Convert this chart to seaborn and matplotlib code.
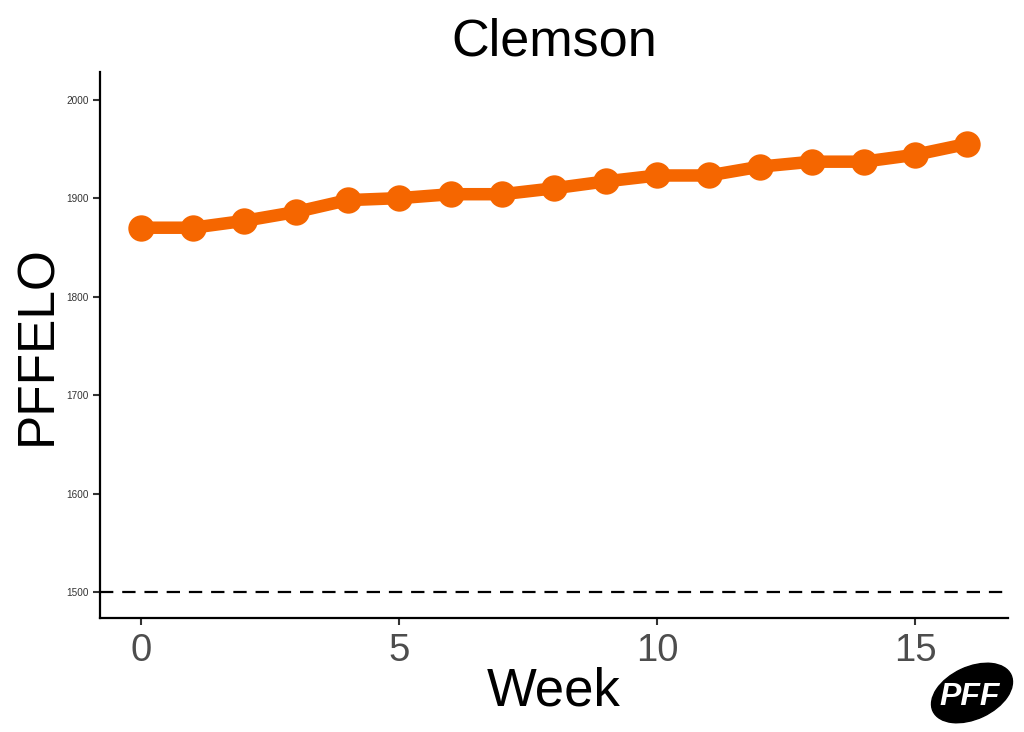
import matplotlib
matplotlib.use("Agg")
import matplotlib.pyplot as plt
from matplotlib.patches import Ellipse
import seaborn as sns
import pandas as pd

# ── Data ──────────────────────────────────────────────────────────────
weeks = list(range(17))
elo = [1870, 1870, 1877, 1886, 1898, 1900, 1904, 1904, 1910,
       1917, 1923, 1923, 1932, 1937, 1937, 1944, 1955]
team = "Clemson"
baseline = 1500

df = pd.DataFrame({"Week": weeks, "PFFELO": elo})

sns.set_style("white")
plt.rcParams["font.family"] = ["Liberation Sans", "DejaVu Sans"]
plt.rcParams["text.color"] = "black"
plt.rcParams["axes.labelcolor"] = "black"

fig = plt.figure(figsize=(10.24, 7.32), dpi=100)
ax = fig.add_axes([100/1024, 1 - 618/732, 908/1024, 546/732])

orange = "#F56600"
sns.lineplot(data=df, x="Week", y="PFFELO", ax=ax, color=orange,
             linewidth=9, marker="o", markersize=19,
             markeredgewidth=0, markerfacecolor=orange)
ax.axhline(baseline, color="black", linestyle=(0, (6, 4)), linewidth=1.6)

ax.set_xlim(-0.8, 16.8)
ax.set_ylim(1474, 2028)
ax.set_xticks([0, 5, 10, 15])
ax.set_yticks([1500, 1600, 1700, 1800, 1900, 2000])

for side in ["top", "right"]:
    ax.spines[side].set_visible(False)
for side in ["left", "bottom"]:
    ax.spines[side].set_color("black")
    ax.spines[side].set_linewidth(1.6)

ax.tick_params(axis="x", labelsize=27.5, labelcolor="#4D4D4D", color="#333333",
               length=5, width=1.5, direction="out", pad=6, bottom=True)
ax.tick_params(axis="y", labelsize=7.2, labelcolor="#333333", color="#333333",
               length=5, width=1.5, direction="out", pad=3, left=True)

ax.set_xlabel("Week", fontsize=38, labelpad=-2)
ax.set_ylabel("PFFELO", fontsize=37, labelpad=3)
ax.set_title(team, fontsize=37.5, pad=12)

# ── PFF logo ──────────────────────────────────────────────────────────
lax = fig.add_axes([930/1024, 1 - 728/732, 84/1024, 70/732])
lax.set_xlim(0, 84)
lax.set_ylim(0, 70)
lax.axis("off")
lax.add_patch(Ellipse((42, 35), 86, 52, angle=25, color="black"))
lax.text(40, 31, "PFF", color="white", fontsize=23, fontweight="bold",
         fontstyle="italic", ha="center", va="center")

fig.savefig("out.png", dpi=100)
